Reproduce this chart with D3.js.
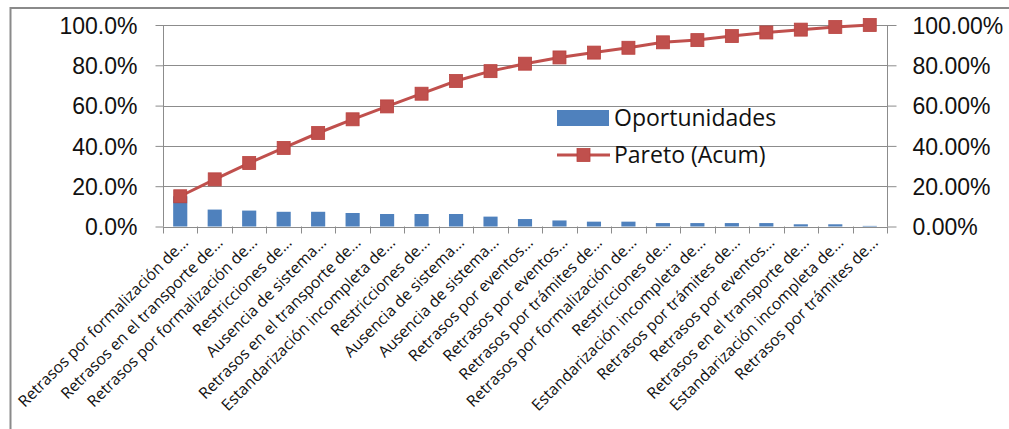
<!DOCTYPE html>
<html>
<head>
<meta charset="utf-8">
<script src="https://cdn.jsdelivr.net/npm/d3@7/dist/d3.min.js"></script>
<style>
  html, body { margin: 0; padding: 0; background: #fff; }
  svg { display: block; font-family: "Open Sans", "Liberation Sans", sans-serif; }
</style>
</head>
<body>
<svg id="chart" width="1009" height="429"></svg>
<script>
// Causas de retraso, ordenadas de mayor a menor
const categories = [
  "Retrasos por formalización de...",
  "Retrasos en el transporte de...",
  "Retrasos por formalización de...",
  "Restricciones de...",
  "Ausencia de sistema...",
  "Retrasos en el transporte de...",
  "Estandarización incompleta de...",
  "Restricciones de...",
  "Ausencia de sistema...",
  "Ausencia de sistema...",
  "Retrasos por eventos...",
  "Retrasos por eventos...",
  "Retrasos por trámites de...",
  "Retrasos por formalización de...",
  "Restricciones de...",
  "Estandarización incompleta de...",
  "Retrasos por trámites de...",
  "Retrasos por eventos...",
  "Retrasos en el transporte de...",
  "Estandarización incompleta de...",
  "Retrasos por trámites de..."
];

// Participación de cada causa (fracción del total)
const oportunidades = [0.150, 0.084, 0.079, 0.073, 0.073, 0.067, 0.062, 0.062, 0.062, 0.049,
                       0.037, 0.030, 0.024, 0.024, 0.017, 0.017, 0.017, 0.017, 0.011, 0.011, 0.003];

// Porcentaje acumulado (Pareto)
const paretoAcum = [0.150, 0.234, 0.315, 0.390, 0.464, 0.532, 0.596, 0.659, 0.722, 0.771,
                    0.808, 0.839, 0.863, 0.887, 0.914, 0.925, 0.945, 0.963, 0.977, 0.990, 1.000];

const leftTicks = [0, 0.2, 0.4, 0.6, 0.8, 1.0];
const rightTicks = [0, 0.2, 0.4, 0.6, 0.8, 1.0];

const seriesNames = ["Oportunidades", "Pareto (Acum)"];

const BAR_COLOR = "#4F81BD";
const LINE_COLOR = "#C0504D";
const GRID_COLOR = "#8c8c8c";
const TEXT_COLOR = "#111";

const svg = d3.select("#chart");

// Borde del área del gráfico
svg.append("rect")
  .attr("x", 10.5).attr("y", 8)
  .attr("width", 1100).attr("height", 600)
  .attr("fill", "none")
  .attr("stroke", "#8a8a8a")
  .attr("stroke-width", 2);

const plot = { left: 163, right: 887, top: 25, bottom: 226.5 };

const x = d3.scaleBand()
  .domain(d3.range(categories.length))
  .range([plot.left, plot.right])
  .padding(0);

const y = d3.scaleLinear().domain([0, 1]).range([plot.bottom, plot.top]);
const y2 = d3.scaleLinear().domain([0, 1]).range([plot.bottom, plot.top]);

// Líneas de cuadrícula
svg.append("g")
  .selectAll("line")
  .data(leftTicks.filter(d => d > 0))
  .join("line")
  .attr("x1", plot.left).attr("x2", plot.right)
  .attr("y1", d => Math.round(y(d)) + 0.5)
  .attr("y2", d => Math.round(y(d)) + 0.5)
  .attr("stroke", GRID_COLOR)
  .attr("stroke-width", 1);

// Eje izquierdo
const leftAxis = svg.append("g")
  .attr("transform", `translate(${plot.left + 0.5},0)`)
  .call(d3.axisLeft(y).tickValues(leftTicks).tickSize(8).tickPadding(18)
    .tickFormat(d => (d * 100).toFixed(1) + "%"));

// Eje derecho
const rightAxis = svg.append("g")
  .attr("transform", `translate(${plot.right + 0.5},0)`)
  .call(d3.axisRight(y2).tickValues(rightTicks).tickSize(9).tickPadding(16)
    .tickFormat(d => (d * 100).toFixed(2) + "%"));

[leftAxis, rightAxis].forEach(g => {
  g.select(".domain").attr("stroke", GRID_COLOR).attr("d", null)
    .attr("d", `M0,${plot.top}V${plot.bottom}`);
  g.selectAll(".tick line").attr("stroke", GRID_COLOR);
  g.selectAll(".tick text")
    .attr("fill", TEXT_COLOR)
    .style("font-size", "23px")
    .attr("dy", "0.36em");
});

// Barras
const barW = x.bandwidth() * 0.41;
svg.append("g")
  .selectAll("rect")
  .data(oportunidades)
  .join("rect")
  .attr("x", (d, i) => x(i) + (x.bandwidth() - barW) / 2)
  .attr("y", d => y(d))
  .attr("width", barW)
  .attr("height", d => plot.bottom - y(d))
  .attr("fill", BAR_COLOR);

// Eje de categorías
const xAxis = svg.append("g");
xAxis.append("line")
  .attr("x1", plot.left).attr("x2", plot.right + 1)
  .attr("y1", Math.round(plot.bottom) + 0.5).attr("y2", Math.round(plot.bottom) + 0.5)
  .attr("stroke", GRID_COLOR);
xAxis.selectAll("line.tk")
  .data(d3.range(categories.length + 1))
  .join("line")
  .attr("class", "tk")
  .attr("x1", i => Math.round(plot.left + i * x.step()) + 0.5)
  .attr("x2", i => Math.round(plot.left + i * x.step()) + 0.5)
  .attr("y1", plot.bottom)
  .attr("y2", plot.bottom + 7)
  .attr("stroke", GRID_COLOR);

xAxis.selectAll("text")
  .data(categories)
  .join("text")
  .attr("transform", (d, i) => `translate(${x(i) + x.bandwidth() / 2 + 1},${plot.bottom + 9}) rotate(-45)`)
  .attr("text-anchor", "end")
  .attr("dy", "0.72em")
  .attr("fill", TEXT_COLOR)
  .style("font-size", "15.8px")
  .text(d => d);

// Línea de Pareto acumulado
const line = d3.line()
  .x((d, i) => x(i) + x.bandwidth() / 2)
  .y(d => y2(d));

svg.append("path")
  .datum(paretoAcum)
  .attr("d", line)
  .attr("fill", "none")
  .attr("stroke", LINE_COLOR)
  .attr("stroke-width", 3);

const M = 13;
svg.append("g")
  .selectAll("rect")
  .data(paretoAcum)
  .join("rect")
  .attr("x", (d, i) => x(i) + x.bandwidth() / 2 - M / 2)
  .attr("y", d => y2(d) - M / 2)
  .attr("width", M).attr("height", M)
  .attr("fill", LINE_COLOR)
  .attr("stroke", "#b9423f")
  .attr("stroke-width", 0.8);

// Leyenda
const legend = svg.append("g").attr("transform", "translate(557,0)");
legend.append("rect")
  .attr("x", 0).attr("y", 110).attr("width", 52).attr("height", 16)
  .attr("fill", BAR_COLOR);
legend.append("text")
  .attr("x", 57).attr("y", 118).attr("dy", "0.36em")
  .attr("fill", TEXT_COLOR).style("font-size", "23px")
  .text(seriesNames[0]);
legend.append("line")
  .attr("x1", 0).attr("x2", 53).attr("y1", 155).attr("y2", 155)
  .attr("stroke", LINE_COLOR).attr("stroke-width", 3);
legend.append("rect")
  .attr("x", 26.5 - M / 2).attr("y", 155 - M / 2).attr("width", M).attr("height", M)
  .attr("fill", LINE_COLOR).attr("stroke", "#b9423f").attr("stroke-width", 0.8);
legend.append("text")
  .attr("x", 57).attr("y", 155).attr("dy", "0.36em")
  .attr("fill", TEXT_COLOR).style("font-size", "23px")
  .text(seriesNames[1]);
</script>
</body>
</html>
